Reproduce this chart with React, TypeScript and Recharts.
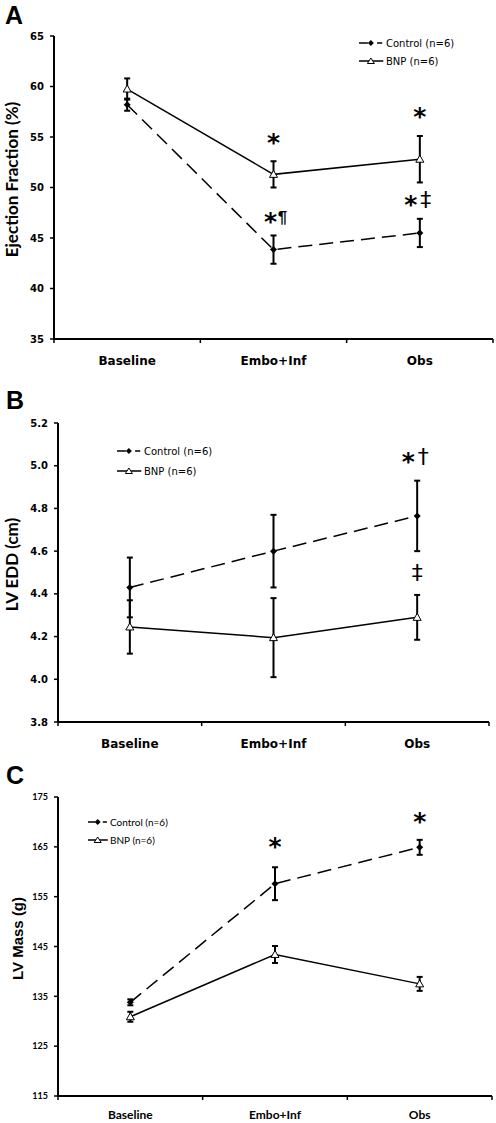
import React from 'react';
import { LineChart, Line, XAxis, YAxis, ErrorBar, ReferenceDot } from 'recharts';

// ---------------------------------------------------------------------------
// Data
// ---------------------------------------------------------------------------

const categories = ['Baseline', 'Embo+Inf', 'Obs'];
const seriesNames = ['Control (n=6)', 'BNP (n=6)'];

// A: ejection fraction (%)
const efControl = [58.2, 43.85, 45.5];
const efControlErr = [0.6, 1.4, 1.4];
const efBnp = [59.75, 51.3, 52.8];
const efBnpErr = [1.05, 1.3, 2.3];
const efTicks = [35, 40, 45, 50, 55, 60, 65];

// B: LV end-diastolic dimension (cm)
const eddControl = [4.43, 4.6, 4.765];
const eddControlErr = [0.14, 0.17, 0.165];
const eddBnp = [4.245, 4.195, 4.29];
const eddBnpErr = [0.125, 0.185, 0.105];
const eddTicks = [3.8, 4.0, 4.2, 4.4, 4.6, 4.8, 5.0, 5.2];

// C: LV mass (g)
const massControl = [133.8, 157.6, 164.9];
const massControlErr = [0.6, 3.3, 1.5];
const massBnp = [130.9, 143.4, 137.5];
const massBnpErr = [1.0, 1.7, 1.4];
const massTicks = [115, 125, 135, 145, 155, 165, 175];

// significance markers
type Mark = { cat: string; y: number; text: string };
const efMarks: Mark[] = [
  { cat: 'Embo+Inf', y: 54.9, text: '*' },
  { cat: 'Embo+Inf', y: 47.1, text: '*¶' },
  { cat: 'Obs', y: 57.5, text: '*' },
  { cat: 'Obs', y: 48.8, text: '*‡' },
];
const eddMarks: Mark[] = [
  { cat: 'Obs', y: 5.04, text: '*†' },
  { cat: 'Obs', y: 4.5, text: '‡' },
];
const massMarks: Mark[] = [
  { cat: 'Embo+Inf', y: 165.9, text: '*' },
  { cat: 'Obs', y: 170.9, text: '*' },
];

// ---------------------------------------------------------------------------
// Helpers
// ---------------------------------------------------------------------------

const W = 496;
const AXIS_H = 24;
const bandTicks = categories.map((_, i) => i).concat(categories.length);

function buildRows(ctrl: number[], ctrlErr: number[], bnp: number[], bnpErr: number[]) {
  return categories.map((c, i) => ({
    cat: c,
    pos: i + 0.5,
    ctrl: ctrl[i],
    ctrlErr: ctrlErr[i],
    bnp: bnp[i],
    bnpErr: bnpErr[i],
  }));
}

function DiamondDot(props: any) {
  const { cx, cy } = props;
  if (cx == null || cy == null) return null;
  const r = 3.5;
  return (
    <path
      d={`M${cx},${cy - r}L${cx + r},${cy}L${cx},${cy + r}L${cx - r},${cy}Z`}
      fill="#000"
    />
  );
}

function TriangleDot(props: any) {
  const { cx, cy } = props;
  if (cx == null || cy == null) return null;
  return (
    <path
      d={`M${cx},${cy - 4}L${cx + 4},${cy + 3}L${cx - 4},${cy + 3}Z`}
      fill="#fff"
      stroke="#000"
      strokeWidth={1}
    />
  );
}

/** star + optional symbol drawn at the reference dot centre */
function SigLabel(props: any) {
  const { viewBox, text } = props;
  if (!viewBox) return null;
  const cx = viewBox.x + (viewBox.width || 0) / 2;
  const cy = viewBox.y + (viewBox.height || 0) / 2;
  const hasStar = text[0] === '*';
  const sym = hasStar ? text.slice(1) : text;
  const pilcrow = sym === '¶';
  let starX = cx;
  let symX = cx;
  if (hasStar && sym) {
    starX = pilcrow ? cx - 3 : cx - 9;
    symX = pilcrow ? cx + 9 : cx + 6;
  }
  return (
    <g>
      {hasStar && (
        <text
          x={starX}
          y={cy + 13}
          textAnchor="middle"
          fontFamily="DejaVu Sans"
          fontWeight="bold"
          fontSize={25}
          fill="#000"
        >
          *
        </text>
      )}
      {sym && (
        <text
          x={symX}
          y={pilcrow ? cy + 6 : cy + 7}
          textAnchor="middle"
          fontFamily={pilcrow ? 'Liberation Sans' : 'DejaVu Sans'}
          fontWeight={pilcrow ? 'bold' : 'normal'}
          fontSize={pilcrow ? 17 : 22}
          fill="#000"
        >
          {sym}
        </text>
      )}
    </g>
  );
}

interface PanelProps {
  top: number;
  height: number;
  plot: { left: number; right: number; top: number; bottom: number };
  rows: ReturnType<typeof buildRows>;
  domain: [number, number];
  ticks: number[];
  fmt: (v: number) => string;
  marks: Mark[];
  title: string;
  titleX: number;
  titleFont: string;
  titleSize: number;
  tickFont: string;
  tickSize: number;
  catFont: string;
  catSize: number;
  catMargin: number;
}

function Panel(p: PanelProps) {
  const band = (p.plot.right - p.plot.left) / categories.length;
  const margin = {
    top: p.plot.top,
    right: W - p.plot.right,
    bottom: p.height - p.plot.bottom - AXIS_H,
    left: 0,
  };

  const renderCat = (t: any) => {
    const i = t.payload.value;
    if (i >= categories.length) return <g />;
    return (
      <text
        x={t.x + band / 2}
        y={t.y}
        dy="0.71em"
        textAnchor="middle"
        fontFamily={p.catFont}
        fontWeight="bold"
        fontSize={p.catSize}
        fill="#000"
      >
        {categories[i]}
      </text>
    );
  };

  const renderTitle = (l: any) => {
    const vb = l.viewBox || { y: p.plot.top, height: p.plot.bottom - p.plot.top };
    const cx = p.titleX;
    const cy = vb.y + vb.height / 2 - 8;
    return (
      <text
        transform={`rotate(-90 ${cx} ${cy})`}
        x={cx}
        y={cy}
        textAnchor="middle"
        dominantBaseline="central"
        fontFamily={p.titleFont}
        fontWeight="bold"
        fontSize={p.titleSize}
        fill="#000"
      >
        {p.title}
      </text>
    );
  };

  return (
    <div style={{ position: 'absolute', left: 0, top: p.top }}>
      <LineChart width={W} height={p.height} data={p.rows} margin={margin}>
        <XAxis
          dataKey="pos"
          type="number"
          domain={[0, categories.length]}
          ticks={bandTicks}
          interval={0}
          height={AXIS_H}
          tickSize={4}
          tickMargin={p.catMargin}
          tick={renderCat}
          axisLine={{ stroke: '#000', strokeWidth: 2 }}
          tickLine={{ stroke: '#000', strokeWidth: 1.5 }}
        />
        <YAxis
          type="number"
          domain={p.domain}
          ticks={p.ticks}
          interval={0}
          width={p.plot.left}
          tickSize={4}
          tickMargin={6}
          tickFormatter={p.fmt}
          tick={{ fill: '#000', fontSize: p.tickSize, fontFamily: p.tickFont, fontWeight: 700 }}
          axisLine={{ stroke: '#000', strokeWidth: 2 }}
          tickLine={{ stroke: '#000', strokeWidth: 1.5 }}
          label={renderTitle}
        />
        <Line
          dataKey="bnp"
          name={seriesNames[1]}
          type="linear"
          stroke="#000"
          strokeWidth={1.5}
          dot={<TriangleDot />}
          activeDot={false}
          isAnimationActive={false}
        >
          <ErrorBar dataKey="bnpErr" width={3} stroke="#000" strokeWidth={2} direction="y" />
        </Line>
        <Line
          dataKey="ctrl"
          name={seriesNames[0]}
          type="linear"
          stroke="#000"
          strokeWidth={1.5}
          strokeDasharray="14 7"
          dot={<DiamondDot />}
          activeDot={false}
          isAnimationActive={false}
        >
          <ErrorBar dataKey="ctrlErr" width={3} stroke="#000" strokeWidth={2} direction="y" />
        </Line>
        {p.marks.map((m, i) => (
          <ReferenceDot
            key={i}
            x={categories.indexOf(m.cat) + 0.5}
            y={m.y}
            r={2}
            fill="none"
            stroke="none"
            ifOverflow="visible"
            label={<SigLabel text={m.text} />}
          />
        ))}
      </LineChart>
    </div>
  );
}

function LegendRows({ x, y1, y2, iconW, font, size }: {
  x: number; y1: number; y2: number; iconW: number; font: string; size: number;
}) {
  const dx = x + iconW * 0.44;
  return (
    <g fill="#000" fontFamily={font} fontSize={size}>
      <line x1={x} x2={x + iconW * 0.33} y1={y1} y2={y1} stroke="#000" strokeWidth={1.5} />
      <path d={`M${dx},${y1 - 3}L${dx + 3},${y1}L${dx},${y1 + 3}L${dx - 3},${y1}Z`} />
      <line x1={x + iconW * 0.67} x2={x + iconW * 0.86} y1={y1} y2={y1} stroke="#000" strokeWidth={1.5} />
      <text x={x + iconW} y={y1} dominantBaseline="central">{seriesNames[0]}</text>
      <line x1={x} x2={x + iconW * 0.9} y1={y2} y2={y2} stroke="#000" strokeWidth={1.5} />
      <path
        d={`M${dx},${y2 - 3}L${dx + 3.5},${y2 + 2.5}L${dx - 3.5},${y2 + 2.5}Z`}
        fill="#fff"
        stroke="#000"
        strokeWidth={1}
      />
      <text x={x + iconW} y={y2} dominantBaseline="central">{seriesNames[1]}</text>
    </g>
  );
}

// ---------------------------------------------------------------------------
// Component
// ---------------------------------------------------------------------------

export default function App() {
  const efRows = buildRows(efControl, efControlErr, efBnp, efBnpErr);
  const eddRows = buildRows(eddControl, eddControlErr, eddBnp, eddBnpErr);
  const massRows = buildRows(massControl, massControlErr, massBnp, massBnpErr);

  return (
    <div
      style={{
        position: 'absolute',
        left: 0,
        top: 0,
        width: W,
        height: 1123,
        background: '#fff',
        overflow: 'hidden',
      }}
    >
      <Panel
        top={0}
        height={380}
        plot={{ left: 54, right: 493, top: 36, bottom: 339 }}
        rows={efRows}
        domain={[35, 65]}
        ticks={efTicks}
        fmt={(v) => String(v)}
        marks={efMarks}
        title="Ejection Fraction (%)"
        titleX={11}
        titleFont="Lato"
        titleSize={17}
        tickFont="DejaVu Sans"
        tickSize={10}
        catFont="DejaVu Sans"
        catSize={12}
        catMargin={13}
      />
      <Panel
        top={380}
        height={375}
        plot={{ left: 58, right: 489, top: 43, bottom: 342 }}
        rows={eddRows}
        domain={[3.8, 5.2]}
        ticks={eddTicks}
        fmt={(v) => v.toFixed(1)}
        marks={eddMarks}
        title="LV EDD (cm)"
        titleX={11}
        titleFont="Lato"
        titleSize={17}
        tickFont="DejaVu Sans"
        tickSize={10}
        catFont="DejaVu Sans"
        catSize={12}
        catMargin={13}
      />
      <Panel
        top={750}
        height={373}
        plot={{ left: 58, right: 492, top: 47, bottom: 346 }}
        rows={massRows}
        domain={[115, 175]}
        ticks={massTicks}
        fmt={(v) => String(v)}
        marks={massMarks}
        title="LV Mass (g)"
        titleX={17}
        titleFont="Liberation Sans"
        titleSize={15}
        tickFont="Lato"
        tickSize={9}
        catFont="Lato"
        catSize={12}
        catMargin={10}
      />
      <svg
        width={W}
        height={1123}
        style={{ position: 'absolute', left: 0, top: 0, pointerEvents: 'none' }}
      >
        <g fontFamily="Liberation Sans" fontWeight="bold" fontSize={25} fill="#000">
          <text x={5} y={24}>A</text>
          <text x={6} y={409}>B</text>
          <text x={6} y={784}>C</text>
        </g>
        <LegendRows x={359} y1={43} y2={61} iconW={27} font="DejaVu Sans" size={10} />
        <LegendRows x={117} y1={451} y2={471} iconW={27} font="DejaVu Sans" size={10} />
        <LegendRows x={88} y1={822} y2={840} iconW={22} font="Lato" size={10} />
      </svg>
    </div>
  );
}
